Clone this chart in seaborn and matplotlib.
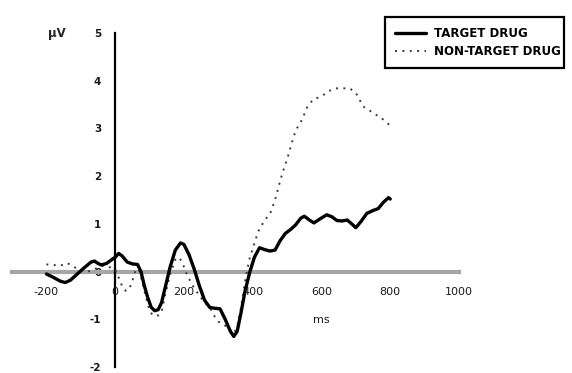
import matplotlib
matplotlib.use("Agg")
import matplotlib.pyplot as plt
import seaborn as sns
import pandas as pd

# ERP waveforms (time in ms, amplitude in µV)
target_ms = [-200, -180, -160, -145, -130, -110, -90, -70, -60, -50, -40, -25, -10, 0, 10, 20,
             35, 50, 65, 75, 85, 95, 105, 115, 125, 135, 145, 160, 175, 190, 200, 215, 230,
             245, 260, 275, 290, 305, 320, 335, 345, 355, 365, 378, 392, 405, 420, 435, 450,
             465, 480, 495, 510, 525, 540, 550, 565, 578, 595, 615, 630, 645, 660, 675, 688,
             700, 715, 732, 750, 765, 780, 795, 800]
target_uv = [-0.05, -0.12, -0.2, -0.23, -0.18, -0.05, 0.08, 0.2, 0.22, 0.17, 0.14, 0.17, 0.25,
             0.3, 0.38, 0.33, 0.2, 0.16, 0.15, 0.0, -0.3, -0.55, -0.75, -0.82, -0.8, -0.65,
             -0.35, 0.1, 0.45, 0.6, 0.57, 0.35, 0.05, -0.3, -0.6, -0.75, -0.77, -0.78, -1.0,
             -1.25, -1.36, -1.25, -0.9, -0.4, 0.0, 0.3, 0.5, 0.46, 0.43, 0.45, 0.65, 0.8, 0.88,
             0.98, 1.12, 1.16, 1.08, 1.02, 1.1, 1.19, 1.15, 1.07, 1.06, 1.08, 1.0, 0.92, 1.05,
             1.22, 1.28, 1.32, 1.45, 1.55, 1.52]

nontarget_ms = [-200, -180, -160, -140, -120, -100, -80, -60, -40, -20, 0, 10, 20, 30, 40, 50,
                60, 70, 80, 90, 100, 110, 125, 135, 145, 160, 175, 185, 195, 205, 215, 230, 245,
                260, 275, 290, 300, 315, 330, 345, 355, 365, 378, 390, 401, 416, 436, 450, 465,
                478, 488, 500, 510, 520, 530, 544, 558, 576, 600, 620, 640, 665, 683, 703, 721,
                750, 779, 800]
nontarget_uv = [0.15, 0.14, 0.12, 0.18, 0.1, 0.02, 0.0, 0.05, 0.12, 0.1, 0.05, -0.12, -0.3,
                -0.4, -0.38, -0.2, 0.05, 0.02, -0.25, -0.55, -0.82, -0.92, -0.92, -0.85, -0.5,
                -0.05, 0.25, 0.3, 0.2, 0.0, -0.15, -0.35, -0.5, -0.65, -0.75, -0.95, -1.05, -1.1,
                -1.2, -1.3, -1.15, -0.8, -0.2, 0.25, 0.5, 0.84, 1.09, 1.2, 1.5, 1.85, 2.1, 2.35,
                2.6, 2.85, 3.02, 3.19, 3.44, 3.61, 3.67, 3.78, 3.84, 3.84, 3.84, 3.71, 3.46, 3.33,
                3.19, 3.06]

x_ticks = [-200, 0, 200, 400, 600, 800, 1000]
y_ticks = [-2, -1, 0, 1, 2, 3, 4, 5]
series_names = ["TARGET DRUG", "NON-TARGET DRUG"]

sns.set_theme(style="white")
plt.rcParams["font.family"] = ["DejaVu Sans"]

fig = plt.figure(figsize=(5.72, 3.73), dpi=100)
W, H = 572, 373
ax = fig.add_axes([12 / W, 1 - 367 / H, (459 - 12) / W, (367 - 33) / H])

df_t = pd.DataFrame({"ms": target_ms, "uv": target_uv})
df_n = pd.DataFrame({"ms": nontarget_ms, "uv": nontarget_uv})

sns.lineplot(data=df_n, x="ms", y="uv", ax=ax, color="#3a3a3a", linewidth=1.4,
             linestyle=(0, (1, 2.8)), label=series_names[1], legend=False, zorder=3)
sns.lineplot(data=df_t, x="ms", y="uv", ax=ax, color="black", linewidth=2.4,
             label=series_names[0], legend=False, zorder=4)

ax.set_xlim(-300, 1000)
ax.set_ylim(-2, 5)
ax.set_xlabel("")
ax.set_ylabel("")

# Axes crossing at the origin
for side in ("top", "right"):
    ax.spines[side].set_visible(False)
ax.spines["left"].set_position(("data", 0))
ax.spines["bottom"].set_position(("data", 0))
ax.spines["left"].set_color("black")
ax.spines["left"].set_linewidth(1.6)
ax.spines["bottom"].set_color("#a6a6a6")
ax.spines["bottom"].set_linewidth(3)
ax.spines["bottom"].set_zorder(1)

ax.set_xticks(x_ticks)
ax.set_xticklabels([str(v) for v in x_ticks])
ax.set_yticks(y_ticks)
ax.set_yticklabels([str(v) for v in y_ticks])
ax.tick_params(axis="x", direction="out", length=3, width=1.2, color="#333333",
               pad=8, labelsize=8, labelcolor="#1a1a1a")
ax.tick_params(axis="y", direction="out", length=3, width=1.2, color="#333333",
               pad=7, labelsize=7.5, labelcolor="#1a1a1a")
for lab in ax.get_yticklabels():
    lab.set_fontweight("bold")
ax.grid(False)

fig.text(57 / W, 1 - 34 / H, "µV", fontsize=8.5, fontweight="bold", ha="center", va="center")
fig.text(321 / W, 1 - 320 / H, "ms", fontsize=8, ha="center", va="center", color="#1a1a1a")

handles, labels = ax.get_legend_handles_labels()
order = [labels.index(n) for n in series_names]
leg = fig.legend([handles[i] for i in order], [labels[i] for i in order],
                 loc="upper left", bbox_to_anchor=(379 / W, 1 - 66 / H, 191 / W, 55 / H),
                 mode="expand", frameon=True, fancybox=False, framealpha=1,
                 edgecolor="black", prop={"size": 8.5, "weight": "bold"},
                 handlelength=2.6, handletextpad=0.75, borderpad=0.85, labelspacing=0.45)
leg.get_frame().set_linewidth(1.6)
for t in leg.get_texts():
    t.set_color("black")

fig.savefig("out.png", dpi=100)
